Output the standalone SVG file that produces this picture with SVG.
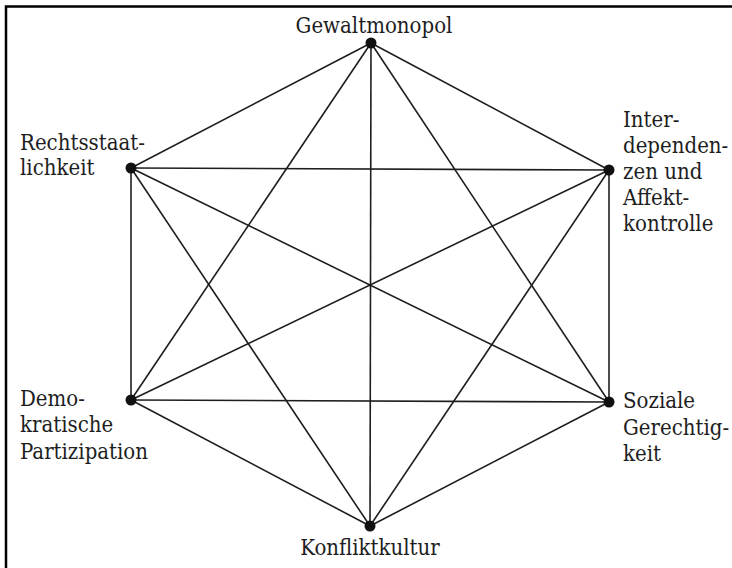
<svg xmlns="http://www.w3.org/2000/svg" width="732" height="568" viewBox="0 0 732 568">
  <style>
    .edge { stroke: #1e1e1e; stroke-width: 1.6; fill: none; }
    .dot { fill: #111; }
    .lbl { font-family: "DejaVu Serif Condensed", "DejaVu Serif", serif; font-stretch: condensed; font-size: 22px; fill: #1e1e1e; }
    .frame { stroke: #000; stroke-width: 2.5; fill: none; }
  </style>
  <rect width="732" height="568" fill="#fff"/>
  <path class="frame" d="M6,568 V6.5 H732"/>
  <g id="connectors">
    <line class="edge" x1="371" y1="43" x2="131" y2="168"/>
    <line class="edge" x1="371" y1="43" x2="609" y2="170"/>
    <line class="edge" x1="371" y1="43" x2="131" y2="400"/>
    <line class="edge" x1="371" y1="43" x2="609" y2="402"/>
    <line class="edge" x1="371" y1="43" x2="370" y2="526"/>
    <line class="edge" x1="131" y1="168" x2="609" y2="170"/>
    <line class="edge" x1="131" y1="168" x2="131" y2="400"/>
    <line class="edge" x1="131" y1="168" x2="609" y2="402"/>
    <line class="edge" x1="131" y1="168" x2="370" y2="526"/>
    <line class="edge" x1="609" y1="170" x2="131" y2="400"/>
    <line class="edge" x1="609" y1="170" x2="609" y2="402"/>
    <line class="edge" x1="609" y1="170" x2="370" y2="526"/>
    <line class="edge" x1="131" y1="400" x2="609" y2="402"/>
    <line class="edge" x1="131" y1="400" x2="370" y2="526"/>
    <line class="edge" x1="609" y1="402" x2="370" y2="526"/>
  </g>
  <g id="gewaltmonopol">
    <circle class="dot" cx="371" cy="43" r="5.5"/>
    <text class="lbl" x="374" y="33" text-anchor="middle">Gewaltmonopol</text>
  </g>
  <g id="rechtsstaatlichkeit">
    <circle class="dot" cx="131" cy="168" r="5.5"/>
    <text class="lbl" x="20" y="150">Rechtsstaat-</text>
    <text class="lbl" x="20" y="175">lichkeit</text>
  </g>
  <g id="interdependenzen">
    <circle class="dot" cx="609" cy="170" r="5.5"/>
    <text class="lbl" x="623" y="127">Inter-</text>
    <text class="lbl" x="623" y="153">dependen-</text>
    <text class="lbl" x="623" y="179">zen und</text>
    <text class="lbl" x="623" y="205">Affekt-</text>
    <text class="lbl" x="623" y="231">kontrolle</text>
  </g>
  <g id="demokratische-partizipation">
    <circle class="dot" cx="131" cy="400" r="5.5"/>
    <text class="lbl" x="20" y="406">Demo-</text>
    <text class="lbl" x="20" y="432">kratische</text>
    <text class="lbl" x="20" y="459">Partizipation</text>
  </g>
  <g id="soziale-gerechtigkeit">
    <circle class="dot" cx="609" cy="402" r="5.5"/>
    <text class="lbl" x="623" y="408">Soziale</text>
    <text class="lbl" x="623" y="435">Gerechtig-</text>
    <text class="lbl" x="623" y="461">keit</text>
  </g>
  <g id="konfliktkultur">
    <circle class="dot" cx="370" cy="526" r="5.5"/>
    <text class="lbl" x="370" y="555" text-anchor="middle">Konfliktkultur</text>
  </g>
</svg>
